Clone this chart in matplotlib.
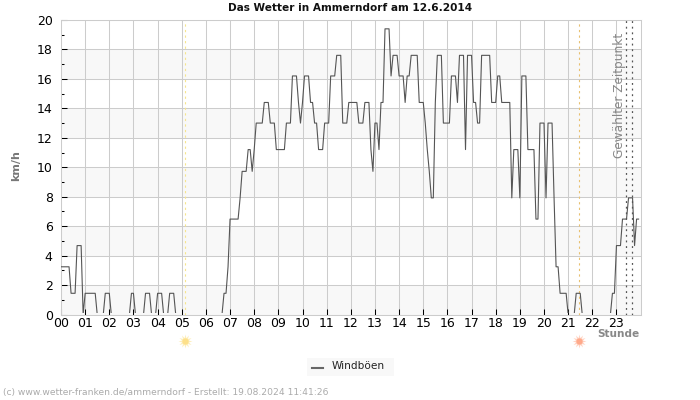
import matplotlib
matplotlib.use("Agg")
import matplotlib.pyplot as plt
from matplotlib.patches import Rectangle
from matplotlib.lines import Line2D

title = "Das Wetter in Ammerndorf am 12.6.2014"
hour_labels = ["00","01","02","03","04","05","06","07","08","09","10","11",
               "12","13","14","15","16","17","18","19","20","21","22","23"]
y_major = [0,2,4,6,8,10,12,14,16,18,20]
y_minor = [1,3,5,7,9,11,13,15,17,19]
bands = [(0,2),(4,6),(8,10),(12,14),(16,18)]
sunrise_h = 5.155
sunset_h = 21.46
selected_h = [23.41, 23.66]

# km/h, one reading every 5 minutes, one row per hour
speed = [
 3.24,3.24,3.24,3.24,3.24,1.44,1.44,1.44,4.68,4.68,4.68,0,
 1.44,1.44,1.44,1.44,1.44,1.44,0,0,0,0,1.44,1.44,
 1.44,0,0,0,0,0,0,0,0,0,0,1.44,
 1.44,0,0,0,0,0,1.44,1.44,1.44,0,0,0,
 1.44,1.44,1.44,0,0,0,1.44,1.44,1.44,0,0,0,
 0,0,0,0,0,0,0,0,0,0,0,0,
 0,0,0,0,0,0,0,0,0,1.44,1.44,3.24,
 6.48,6.48,6.48,6.48,6.48,7.92,9.72,9.72,9.72,11.2,11.2,9.72,
 11.2,13,13,13,13,14.4,14.4,14.4,13,13,13,11.2,
 11.2,11.2,11.2,11.2,13,13,13,16.2,16.2,16.2,14.4,13,
 14.4,16.2,16.2,16.2,14.4,14.4,13,13,11.2,11.2,11.2,13,
 13,13,16.2,16.2,16.2,17.6,17.6,17.6,13,13,13,14.4,
 14.4,14.4,14.4,14.4,13,13,13,14.4,14.4,14.4,11.2,9.72,
 13,13,11.2,14.4,14.4,19.4,19.4,19.4,16.2,17.6,17.6,17.6,
 16.2,16.2,16.2,14.4,16.2,16.2,17.6,17.6,17.6,17.6,14.4,14.4,
 14.4,13,11.2,9.72,7.92,7.92,14.4,17.6,17.6,17.6,13,13,
 13,13,16.2,16.2,16.2,14.4,17.6,17.6,17.6,11.2,17.6,17.6,
 17.6,14.4,14.4,13,13,17.6,17.6,17.6,17.6,17.6,14.4,14.4,
 14.4,16.2,16.2,14.4,14.4,14.4,14.4,14.4,7.92,11.2,11.2,11.2,
 7.92,16.2,16.2,16.2,11.2,11.2,11.2,11.2,6.48,6.48,13,13,
 13,7.92,13,13,13,7.92,3.24,3.24,1.44,1.44,1.44,1.44,
 0,0,0,0,1.44,1.44,1.44,0,0,0,0,0,
 0,0,0,0,0,0,0,0,0,0,1.44,1.44,
 4.68,4.68,4.68,6.48,6.48,6.48,7.92,7.92,7.92,4.68,6.48,6.48,
]
hours = [i / 12 for i in range(len(speed))]

AX_L, AX_R, AX_T, AX_B = 61, 640.6, 20, 314.5
W, H = 700, 400
fig = plt.figure(figsize=(W/100, H/100), dpi=100, facecolor="white")
ax = fig.add_axes([AX_L/W, 1-AX_B/H, (AX_R-AX_L)/W, (AX_B-AX_T)/H])
ax.set_xlim(0, 24)
ax.set_ylim(0, 20)
for lo, hi in bands:
    ax.axhspan(lo, hi, color="#f8f8f8", lw=0, zorder=0)
ax.set_axisbelow(True)
ax.grid(True, which="major", color="#cccccc", lw=0.75)
for s in ax.spines.values():
    s.set_color("#cccccc")
    s.set_linewidth(0.75)

ax.set_xticks(range(24))
ax.set_xticklabels(hour_labels)
ax.set_yticks(y_major)
ax.set_yticks(y_minor, minor=True)
ax.tick_params(axis="both", which="major", direction="in", length=4, width=0.75, color="black",
               labelsize=9, labelcolor="black", pad=2)
ax.tick_params(axis="y", which="minor", direction="in", length=2, width=0.75, color="black")
ax.tick_params(axis="y", which="major", pad=6)

line, = ax.plot(hours, speed, color="#555555", lw=0.8, zorder=3, label="Windböen")
line.set_clip_path(Rectangle((0, 0.006), 1, 1, transform=ax.transAxes))

ax.axvline(sunrise_h, color="#f6e58d", lw=0.8, ls=(0, (2, 3)), zorder=2)
ax.axvline(sunset_h, color="#e8c070", lw=0.8, ls=(0, (2, 3)), zorder=2)
for h in selected_h:
    ax.axvline(h, color="#555555", lw=0.9, ls=(0, (1.5, 3)), zorder=4)

fig.text(619/W, 1-33/H, "Gewählter Zeitpunkt", rotation=90, ha="center", va="top",
         fontsize=8.7, color="#888888", zorder=5)

trans = ax.get_xaxis_transform()
for h, core, glow in [(sunrise_h, "#fde08a", "#fdeebb"), (sunset_h, "#ffa98a", "#ffd3c2")]:
    ax.plot([h], [-0.089], marker=(12, 1, 0), ms=10, color=glow, mew=0, transform=trans,
            clip_on=False, zorder=5)
    ax.plot([h], [-0.089], marker="o", ms=4.5, color=core, mew=0, transform=trans,
            clip_on=False, zorder=6)

fig.text(350/W, 1-8/H, title, ha="center", va="center", fontsize=7.6, fontweight="bold", color="#111111")
fig.text(16/W, 1-166/H, "km/h", rotation=90, ha="center", va="center", fontsize=8,
         fontweight="bold", color="#777777")
fig.text(639/W, 1-334/H, "Stunde", ha="right", va="center", fontsize=7.6,
         fontweight="bold", color="#888888")
fig.text(3/W, 1-393/H, "(c) www.wetter-franken.de/ammerndorf - Erstellt: 19.08.2024 11:41:26",
         ha="left", va="center", fontsize=6.6, color="#aaaaaa")

fig.add_artist(Rectangle((307/W, 1-376/H), 87/W, 18/H, transform=fig.transFigure,
                         facecolor="#f8f8f8", edgecolor="none"))
fig.add_artist(Line2D([312/W, 323/W], [1-368/H, 1-368/H], transform=fig.transFigure,
                      color="#666666", lw=1.5))
fig.text(332/W, 1-366/H, "Windböen", ha="left", va="center", fontsize=7.6, color="#222222")

fig.savefig("out.png", dpi=100)
